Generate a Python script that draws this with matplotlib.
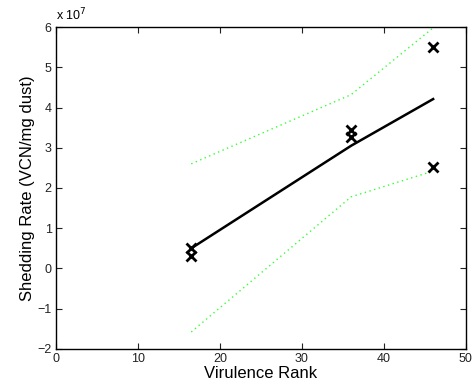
import matplotlib
matplotlib.use("Agg")
import matplotlib.pyplot as plt
import numpy as np

plt.rcParams["font.family"] = ["Liberation Sans", "DejaVu Sans"]

# measured points
virulence_rank = [16.5, 16.5, 36.0, 36.0, 46.0, 46.0]
shedding_rate = [0.51e7, 0.30e7, 3.43e7, 3.27e7, 5.50e7, 2.52e7]

# fitted line and confidence band, read at the sorted ranks
fit_rank = [16.5, 36.0, 46.0]
fit_value = [0.50e7, 3.05e7, 4.21e7]
band_upper = [2.60e7, 4.32e7, 5.98e7]
band_lower = [-1.58e7, 1.78e7, 2.42e7]

scale = 1e7

fig = plt.figure(figsize=(4.74, 3.92), dpi=100)
ax = fig.add_axes([0.118, 0.110, 0.865, 0.821])

for band in (band_upper, band_lower):
    ax.plot(fit_rank, np.array(band) / scale, color="#33ff33", lw=1.0,
            dashes=(1, 2.5))
ax.plot(fit_rank, np.array(fit_value) / scale, "-", color="black", lw=1.8)
ax.plot(virulence_rank, np.array(shedding_rate) / scale, "x", color="black",
        ms=7, mew=2)

ax.set_xlim(0, 50)
ax.set_ylim(-2, 6)
ax.set_xticks(range(0, 51, 10))
ax.set_yticks(range(-2, 7))
ax.set_yticklabels(["\u22122", "\u22121", "0", "1", "2", "3", "4", "5", "6"])
ax.tick_params(direction="in", top=True, right=True, length=4, width=0.8,
               labelsize=9, colors="#222222", pad=3)
for s in ax.spines.values():
    s.set_linewidth(1.0)

ax.set_xlabel("Virulence Rank", fontsize=12, labelpad=1)
ax.set_ylabel("Shedding Rate (VCN/mg dust)", fontsize=12, labelpad=2)
ax.text(0.0, 1.012, "x 10$^7$", transform=ax.transAxes, fontsize=9,
        ha="left", va="bottom")

fig.savefig("out.png", dpi=100)
